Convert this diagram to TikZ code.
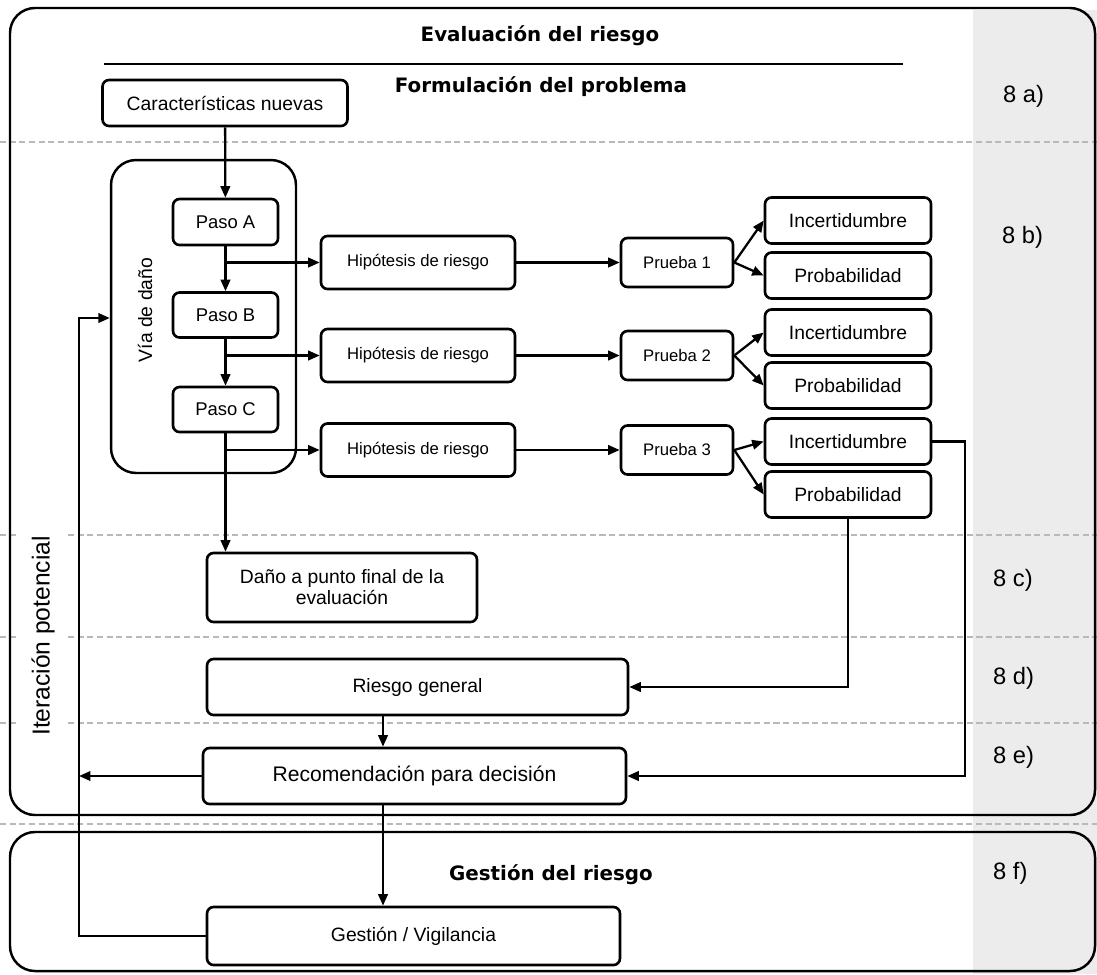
\documentclass[tikz,border=0pt]{standalone}
\usepackage{fontspec}
\setmainfont{Liberation Sans}
\newfontfamily\headfont{DejaVu Sans}
\usepackage{tikz}
\usetikzlibrary{arrows.meta}

\newcommand{\fsz}[1]{\fontsize{#1}{#1}\selectfont}

\begin{document}
\begin{tikzpicture}[
    x=0.02cm, y=-0.02cm,
    >={Triangle[length=2.3mm, width=1.9mm]},
    box/.style={draw, line width=1.5pt, rounded corners=1.3mm, align=center, inner sep=1pt},
    frame/.style={draw, line width=1.4pt, rounded corners=5mm},
    link/.style={->, line width=1.3pt},
    sep/.style={gray!55, line width=0.9pt, dash pattern=on 3.5pt off 2pt},
    head/.style={font=\headfont\bfseries\fsz{11.3}},
    stage/.style={font=\fsz{13.5}, anchor=west}
]
\useasboundingbox (0,0) rectangle (1097,974);

% ==================== BACKGROUND ====================
\fill[gray!15] (973,10) rectangle (1097,974);
\draw[sep] (0,142) -- (1097,142);
\draw[sep] (0,535) -- (18,535) (68,535) -- (1097,535);
\draw[sep] (0,637) -- (18,637) (68,637) -- (1097,637);
\draw[sep] (0,723) -- (18,723) (68,723) -- (1097,723);
\draw[sep] (0,824) -- (1097,824);

\draw[frame] (10,8) rectangle (1095,815);
\draw[frame] (10,832) rectangle (1095,971);

% ==================== HEADINGS ====================
\node[head] (evalTitle) at (540,36) {Evaluación del riesgo};
\draw[line width=1.4pt] (104,64) -- (903,64);
\node[head] (formTitle) at (541,87) {Formulación del problema};
\node[head] (gestTitle) at (551,875) {Gestión del riesgo};
\node[rotate=90, font=\fsz{14}] (iterLabel) at (43,636) {Iteración potencial};

\node[stage] (s8a) at (997,96) {8 a)};
\node[stage] (s8b) at (996,237) {8 b)};
\node[stage] (s8c) at (987,580) {8 c)};
\node[stage] (s8d) at (987,678) {8 d)};
\node[stage] (s8e) at (987,757) {8 e)};
\node[stage] (s8f) at (987,873) {8 f)};

% ==================== HARM PATHWAY ====================
\node[box, minimum width=4.9cm, minimum height=0.92cm, font=\fsz{11}] (feat) at (225,103) {Características nuevas};
\node[draw, line width=1.4pt, rounded corners=5mm, minimum width=3.7cm, minimum height=6.26cm] (via) at (203.5,316.5) {};
\node[rotate=90, font=\fsz{11}] (viaLabel) at (145,310) {Vía de daño};

\node[box, minimum width=2.1cm, minimum height=0.92cm, font=\fsz{10.5}] (pasoA) at (225.5,222) {Paso A};
\node[box, minimum width=2.1cm, minimum height=0.9cm, font=\fsz{10.5}] (pasoB) at (225.5,315) {Paso B};
\node[box, minimum width=2.1cm, minimum height=0.9cm, font=\fsz{10.5}] (pasoC) at (225.5,409.5) {Paso C};

% ==================== HYPOTHESES AND TESTS ====================
\foreach \i/\y in {1/262.5, 2/355.5, 3/450} {
    \node[box, minimum width=3.88cm, minimum height=1.06cm, font=\fsz{9.5}] (hip\i) at (418,\y) {Hipótesis de riesgo};
    \node[box, minimum width=2.24cm, minimum height=0.98cm, font=\fsz{9.5}] (prueba\i) at (677,\y) {Prueba \i};
}
\foreach \i/\ya/\yb in {1/220.5/275.5, 2/332.5/385.5, 3/441.5/494.5} {
    \node[box, minimum width=3.32cm, minimum height=0.92cm, font=\fsz{11}] (inc\i) at (848,\ya) {Incertidumbre};
    \node[box, minimum width=3.32cm, minimum height=0.92cm, font=\fsz{11}] (prob\i) at (848,\yb) {Probabilidad};
}

% ==================== OUTCOMES ====================
\node[box, minimum width=5.4cm, minimum height=1.38cm, font=\fsz{11}] (dano) at (342,587.5) {Daño a punto final de la\\[1pt]evaluación};
\node[box, minimum width=8.42cm, minimum height=1.12cm, font=\fsz{11}] (riesgo) at (417.5,687) {Riesgo general};
\node[box, minimum width=8.46cm, minimum height=1.12cm, font=\fsz{12}] (recom) at (414.5,776) {Recomendación para decisión};
\node[box, minimum width=8.26cm, minimum height=1.16cm, font=\fsz{11}] (gestion) at (413.5,936) {Gestión / Vigilancia};

% Turning points
\coordinate (mainX) at (383,0);
\coordinate (loopX) at (79,0);
\coordinate (loopTop) at (79,318);
\coordinate (incTurn) at (965,441.5);

% ==================== CONNECTORS ====================
\draw[link] (feat) -- (pasoA);
\draw[link] (pasoA) -- (pasoB);
\draw[link] (pasoB) -- (pasoC);
\draw[link] (pasoC.south) -- (pasoC.south |- dano.north);
\draw[link] (pasoA.south |- hip1.west) -- (hip1.west);
\draw[link] (pasoB.south |- hip2.west) -- (hip2.west);
\draw[link] (pasoC.south |- hip3.west) -- (hip3.west);
\foreach \i in {1,2,3} {
    \draw[link] (hip\i) -- (prueba\i);
    \draw[link] (prueba\i.east) -- (inc\i.west);
    \draw[link] (prueba\i.east) -- (prob\i.west);
}
\draw[link] (prob3.south) |- (riesgo.east);
\draw[link] (inc3.east) -- (incTurn) |- (recom.east);
\draw[link] (riesgo.south -| mainX) -- (recom.north -| mainX);
\draw[link] (recom.south -| mainX) -- (gestion.north -| mainX);
\draw[link] (recom.west) -- (recom.west -| loopX);
\draw[link] (gestion.west) -| (loopTop) -- (loopTop -| via.west);

\end{tikzpicture}
\end{document}
